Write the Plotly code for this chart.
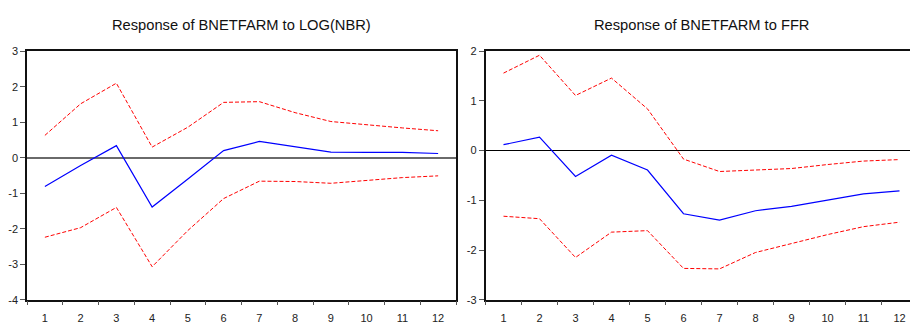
import plotly.graph_objects as go

# Impulse-response periods
periods = [str(i) for i in range(1, 13)]

# Response of BNETFARM to LOG(NBR)
nbr_resp = [-0.81, -0.22, 0.34, -1.39, -0.60, 0.20, 0.46, 0.31, 0.16, 0.15, 0.15, 0.12]
nbr_upper = [0.63, 1.52, 2.10, 0.30, 0.86, 1.56, 1.58, 1.27, 1.02, 0.92, 0.84, 0.76]
nbr_lower = [-2.24, -1.97, -1.40, -3.07, -2.05, -1.15, -0.66, -0.67, -0.72, -0.63, -0.56, -0.51]

# Response of BNETFARM to FFR
ffr_resp = [0.12, 0.27, -0.52, -0.09, -0.39, -1.27, -1.40, -1.21, -1.12, -0.99, -0.87, -0.81]
ffr_upper = [1.56, 1.92, 1.11, 1.46, 0.84, -0.17, -0.42, -0.39, -0.36, -0.28, -0.21, -0.18]
ffr_lower = [-1.32, -1.37, -2.15, -1.64, -1.61, -2.37, -2.38, -2.05, -1.87, -1.69, -1.53, -1.44]

left_ticks = [3, 2, 1, 0, -1, -2, -3, -4]
right_ticks = [2, 1, 0, -1, -2, -3]

W, H = 910, 324
BLUE = "#0000FF"
RED = "#FF0000"
FONT = "Liberation Sans, Arial, sans-serif"

fig = go.Figure()


def add_panel(resp, upper, lower, xa, ya):
    fig.add_trace(go.Scatter(x=periods, y=upper, mode="lines", xaxis=xa, yaxis=ya,
                             line=dict(color=RED, width=1, dash="4px,2px")))
    fig.add_trace(go.Scatter(x=periods, y=lower, mode="lines", xaxis=xa, yaxis=ya,
                             line=dict(color=RED, width=1, dash="4px,2px")))
    fig.add_trace(go.Scatter(x=periods, y=resp, mode="lines", xaxis=xa, yaxis=ya,
                             line=dict(color=BLUE, width=1.2)))


add_panel(nbr_resp, nbr_upper, nbr_lower, "x", "y")
add_panel(ffr_resp, ffr_upper, ffr_lower, "x2", "y2")

# plot-area geometry (pixels)
top_px, bot_px = 47, 305
ydom = [(H - bot_px) / H, (H - top_px) / H]
l_left, l_right = 27, 456
r_left = 485.5
r_step = 36.0
r_hi = -0.5 + (W - r_left) / r_step

xcommon = dict(type="category", tickson="boundaries", ticks="outside", ticklen=4,
               tickcolor="#555", tickwidth=1, showgrid=False, zeroline=False,
               showline=True, linecolor="#111", linewidth=1.5, ticklabelstandoff=7,
               tickfont=dict(family=FONT, size=11, color="#222"), fixedrange=True)
ycommon = dict(ticks="outside", ticklen=5, tickcolor="#555", tickwidth=1,
               showgrid=False, showline=True, linecolor="#111", linewidth=1.5,
               tickfont=dict(family=FONT, size=11, color="#222"), fixedrange=True)

fig.update_layout(
    width=W, height=H,
    margin=dict(l=0, r=0, t=0, b=0),
    paper_bgcolor="white", plot_bgcolor="white",
    showlegend=False,
    xaxis=dict(xcommon, domain=[l_left / W, l_right / W], range=[-0.5, 11.5],
               mirror=True, anchor="y"),
    yaxis=dict(ycommon, domain=ydom, range=[-4, 3], tickvals=left_ticks,
               ticktext=[str(v) for v in left_ticks],
               mirror=True, zeroline=True, zerolinecolor="#6a6a6a",
               zerolinewidth=1.5, anchor="x"),
    xaxis2=dict(xcommon, domain=[r_left / W, 1.0], range=[-0.5, r_hi],
                mirror=True, anchor="y2"),
    yaxis2=dict(ycommon, domain=ydom, range=[-3, 2], tickvals=right_ticks,
                ticktext=[str(v) for v in right_ticks],
                mirror=False, zeroline=True, zerolinecolor="#000",
                zerolinewidth=1, anchor="x2"),
)

titles = [
    ("Response of BNETFARM to LOG(NBR)", (l_left + l_right) / 2),
    ("Response of BNETFARM to FFR", r_left + 12 * r_step / 2),
]
for text, cx in titles:
    fig.add_annotation(text=text, x=cx / W, y=1 - 20 / H, xref="paper", yref="paper",
                       xanchor="center", yanchor="middle", showarrow=False,
                       font=dict(family=FONT, size=14.7, color="#111"))

fig.write_html("out.html")
